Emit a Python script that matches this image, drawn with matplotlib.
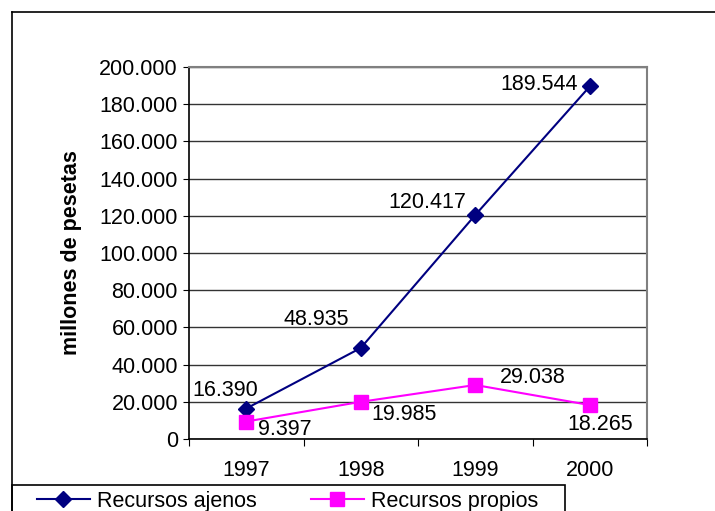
import matplotlib.pyplot as plt
from matplotlib.lines import Line2D
from matplotlib.patches import Rectangle
from matplotlib.ticker import FuncFormatter, FixedLocator

years = ["1997", "1998", "1999", "2000"]
ajenos = [16390, 48935, 120417, 189544]
propios = [9397, 19985, 29038, 18265]

# label offsets in pixels (dx, dy)
ajenos_off = [(12, 18), (-12, 28), (-9, 13), (-12, 2)]
propios_off = [(12, -8), (11, -13), (25, 7), (-22, -19)]

plt.rcParams["font.family"] = ["Liberation Sans", "DejaVu Sans"]
FS = 15.5


def miles(v, pos=None):
    return f"{v:,.0f}".replace(",", ".")


fig = plt.figure(figsize=(7.15, 5.11), dpi=100)
ax = fig.add_axes([189 / 715, 1 - 439 / 511, 458 / 715, 372 / 511])

x = list(range(len(years)))
ax.plot(x, ajenos, color="#000080", lw=1.5, marker="D", ms=8, zorder=3)
ax.plot(x, propios, color="#FF00FF", lw=1.5, marker="s", ms=10, zorder=3)

for i, v in enumerate(ajenos):
    dx, dy = ajenos_off[i]
    ax.annotate(miles(v), (i, v), xytext=(dx, dy), textcoords="offset pixels",
                ha="right", va="center", fontsize=FS)
for i, v in enumerate(propios):
    dx, dy = propios_off[i]
    ax.annotate(miles(v), (i, v), xytext=(dx, dy), textcoords="offset pixels",
                ha="left", va="center", fontsize=FS)

ax.set_xlim(-0.5, 3.5)
ax.set_ylim(0, 200000)
ax.set_yticks(range(0, 200001, 20000))
ax.yaxis.set_major_formatter(FuncFormatter(miles))
ax.yaxis.grid(True, color="#333333", lw=1)
ax.set_axisbelow(True)

ax.xaxis.set_major_locator(FixedLocator([-0.5, 0.5, 1.5, 2.5, 3.5]))
ax.xaxis.set_minor_locator(FixedLocator(x))
ax.set_xticklabels([], minor=False)
ax.set_xticklabels(years, minor=True)
ax.tick_params(axis="x", which="major", length=5, direction="out", color="black")
ax.tick_params(axis="x", which="minor", length=0, pad=15, labelsize=FS)
ax.tick_params(axis="y", length=4, pad=4, labelsize=FS, color="black")

for s in ["top", "right"]:
    ax.spines[s].set_color("#808080")
    ax.spines[s].set_linewidth(1.5)
for s in ["left", "bottom"]:
    ax.spines[s].set_color("black")
    ax.spines[s].set_linewidth(1.2)

ax.set_ylabel("millones de pesetas", fontsize=FS, fontweight="bold")
ax.yaxis.set_label_coords(-107 / 458, 0.5)

# outer chart border
fig.add_artist(Line2D([12 / 715, 12 / 715], [0, 1 - 12 / 511], color="black", lw=1.2))
fig.add_artist(Line2D([12 / 715, 1], [1 - 12 / 511, 1 - 12 / 511], color="black", lw=1.2))

# legend box
fig.add_artist(Rectangle((12 / 715, -0.01), 553 / 715, 26 / 511 + 0.01,
                         transform=fig.transFigure, fill=False, ec="black", lw=1.2))
handles = [
    Line2D([], [], color="#000080", lw=1.5, marker="D", ms=8),
    Line2D([], [], color="#FF00FF", lw=1.5, marker="s", ms=10),
]
fig.legend(handles, ["Recursos ajenos", "Recursos propios"], ncol=2, frameon=False,
           loc="center left", bbox_to_anchor=(37 / 715, 1 - 501 / 511),
           fontsize=FS, handlelength=2.45, handletextpad=0.35, columnspacing=2.5,
           borderpad=0, borderaxespad=0)

fig.savefig("out.png", dpi=100)
